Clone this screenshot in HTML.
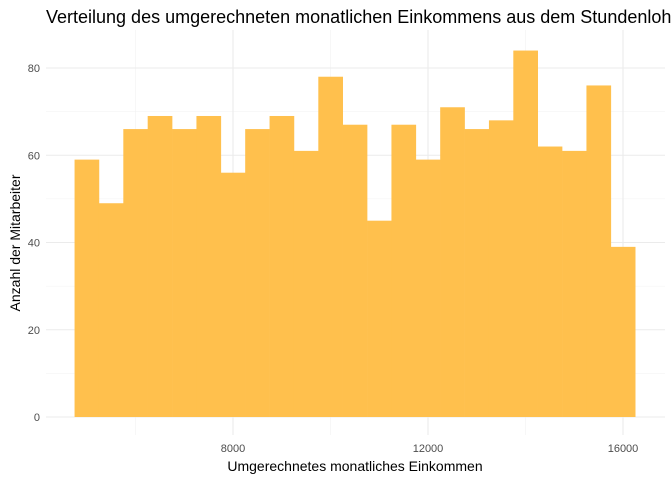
<!DOCTYPE html>
<html><head><meta charset="utf-8"><style>
body{margin:0;background:#fff;font-family:"Liberation Sans",Arial,sans-serif}
svg{display:block}
</style></head><body>
<svg id="chart" width="672" height="480">
<text x="46" y="23" font-size="18" fill="#000">Verteilung des umgerechneten monatlichen Einkommens aus dem Stundenlohn</text>
<g id="grid"></g><g id="bars"></g><g id="ticks"></g>
<text x="355" y="471" font-size="14" text-anchor="middle" fill="#000">Umgerechnetes monatliches Einkommen</text>
<text transform="translate(20,243) rotate(-90)" font-size="14" text-anchor="middle" fill="#000">Anzahl der Mitarbeiter</text>
</svg>
<script>
const binStart = 4750;
const binWidth = 500;
const counts = [59,49,66,69,66,69,56,66,69,61,78,67,45,67,59,71,66,68,84,62,61,76,39];
const xTicks = [8000,12000,16000];
const xMinor = [6000,10000,14000];
const yTicks = [0,20,40,60,80];
const yMinor = [10,30,50,70];
const NS="http://www.w3.org/2000/svg";
const X=v=>233+(v-8000)*195/4000;
const Y=v=>417-v*349/80;
const L=46,R=665,T=30,B=435;
const grid=document.getElementById('grid'),bars=document.getElementById('bars'),ticks=document.getElementById('ticks');
function ln(g,x1,y1,x2,y2,c,w){const l=document.createElementNS(NS,'line');l.setAttribute('x1',x1);l.setAttribute('y1',y1);l.setAttribute('x2',x2);l.setAttribute('y2',y2);l.setAttribute('stroke',c);l.setAttribute('stroke-width',w);


g.appendChild(l);}
xMinor.forEach(v=>ln(grid,X(v),T,X(v),B,'#f2f2f2',0.6));
yMinor.forEach(v=>ln(grid,L,Y(v),R,Y(v),'#f2f2f2',0.6));
xTicks.forEach(v=>ln(grid,X(v),T,X(v),B,'#ebebeb',1.1));
yTicks.forEach(v=>ln(grid,L,Y(v),R,Y(v),'#ebebeb',1.1));
counts.forEach((c,i)=>{const r=document.createElementNS(NS,'rect');const x0=X(binStart+i*binWidth),x1=X(binStart+(i+1)*binWidth);
r.setAttribute('x',x0);r.setAttribute('width',x1-x0+0.3);r.setAttribute('y',Y(c));r.setAttribute('height',Y(0)-Y(c));r.setAttribute('fill','#FFC04D');


bars.appendChild(r);});
function tx(s,x,y,a){const t=document.createElementNS(NS,'text');t.textContent=s;t.setAttribute('x',x);t.setAttribute('y',y);t.setAttribute('text-anchor',a);t.setAttribute('font-size','11');t.setAttribute('fill','#4d4d4d');


ticks.appendChild(t);}
xTicks.forEach(v=>tx(String(v),X(v),452,'middle'));
yTicks.forEach(v=>tx(String(v),40,Y(v)+4,'end'));
</script>
</body></html>
